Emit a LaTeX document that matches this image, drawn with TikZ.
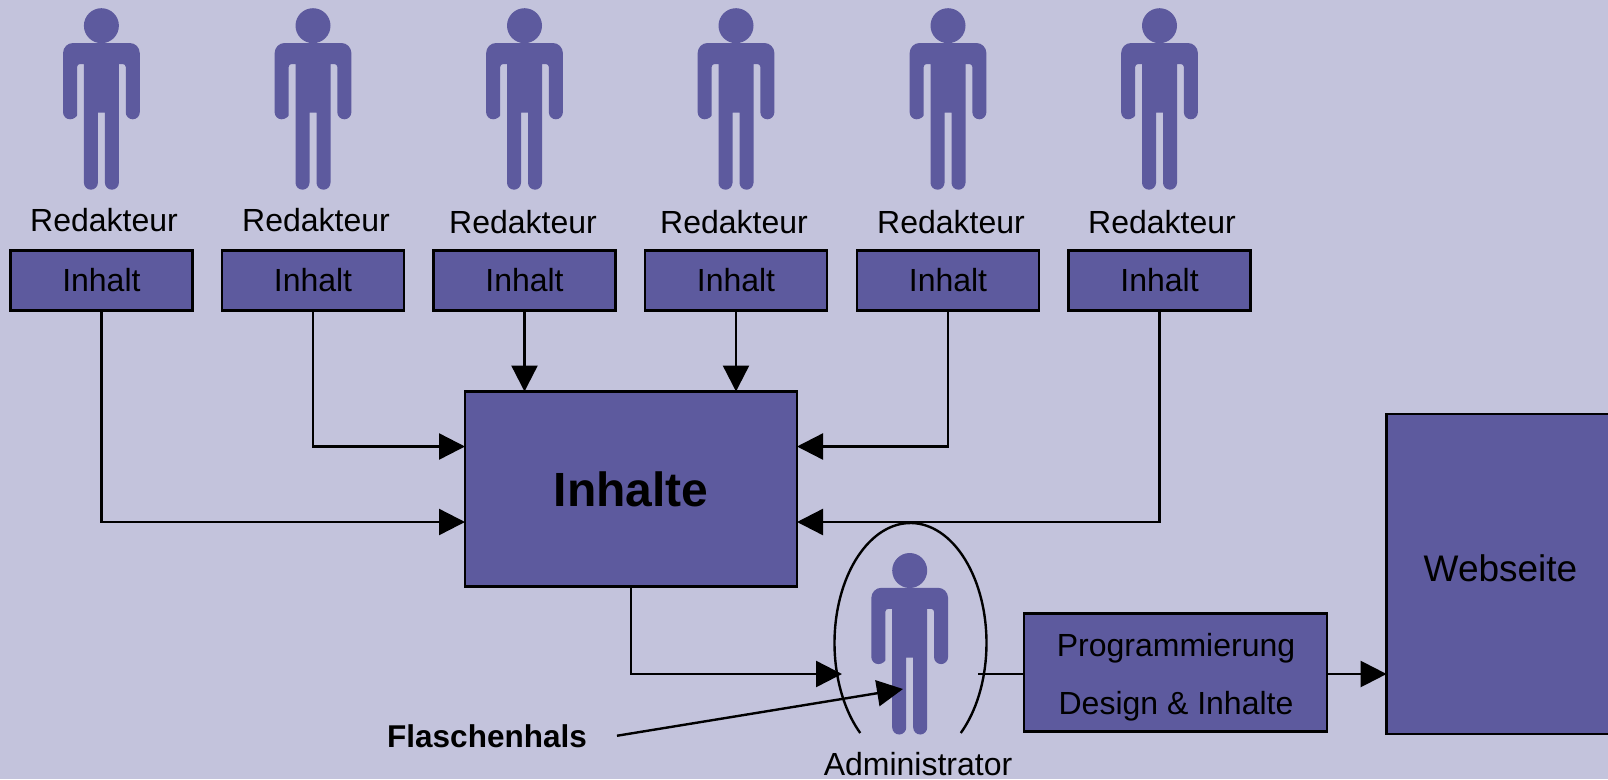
\documentclass[tikz,border=0pt]{standalone}
\usepackage{fontspec}
\setmainfont{Liberation Sans}
\usetikzlibrary{arrows.meta}
\definecolor{hintergrund}{RGB}{195,195,220}
\definecolor{lila}{RGB}{93,90,158}

\begin{document}
\begin{tikzpicture}[x=1pt, y=-1pt,
		text32/.style={font=\fontsize{32}{38}\selectfont, inner sep=0pt, anchor=base},
		kasten/.style={rectangle, draw=black, fill=lila, line width=2.8pt, inner sep=0pt, outer sep=0pt},
		inhaltbox/.style={kasten, minimum width=182pt, minimum height=60pt, font=\fontsize{32}{38}\selectfont},
		pfeil/.style={line width=2.4pt, -{Triangle[length=26pt,width=26pt]}},
		linie/.style={line width=2.4pt},
		person/.pic={
			\fill[lila] (0,0) circle (17.5);
			\fill[lila] (-38.35,86.6) [rounded corners=10pt] -- (-38.35,17.3) -- (38.35,17.3) [sharp corners] -- (38.35,86.6)
				arc[start angle=0,end angle=180,radius=7] [rounded corners=3pt] -- (24.35,38.3) [sharp corners] -- (17.5,38.3) -- (17.5,157)
				arc[start angle=0,end angle=180,radius=7] -- (3.5,87) -- (-3.5,87) -- (-3.5,157)
				arc[start angle=0,end angle=180,radius=7] -- (-17.5,38.3) [rounded corners=3pt] -- (-24.35,38.3) -- (-24.35,86.6) [sharp corners]
				arc[start angle=0,end angle=180,radius=7] -- cycle;
		}]

		% fix the page and fill the background
		\clip (0,0) rectangle (1608,779);
		\fill[hintergrund] (0,0) rectangle (1608,779);

		% the six authors with their content boxes
		\foreach \i/\x/\lx/\ly in {1/101.4/104/231.5, 2/313/316/231.5, 3/524.5/523/233.5, 4/736/734/233.5, 5/948/951/233.5, 6/1159.5/1162/233.5}{
			\pic (redakteur\i) at (\x,25.7) {person};
			\node[text32] (name\i) at (\lx,\ly) {Redakteur};
			\node[inhaltbox] (inhalt\i) at (\x,280.5) {Inhalt};
		}

		% central box
		\node[kasten, minimum width=332pt, minimum height=195pt, font=\fontsize{48}{56}\bfseries\selectfont] (inhalte) at (631,489) {\raisebox{-1pt}{Inhalte}};

		% connectors into the central box
		\draw[pfeil] (inhalt1.south) |- ([yshift=-33pt]inhalte.west);
		\draw[pfeil] (inhalt2.south) |- ([yshift=42.5pt]inhalte.west);
		\draw[pfeil] (inhalt3.south) -- (inhalte.north -| inhalt3.south);
		\draw[pfeil] (inhalt4.south) -- (inhalte.north -| inhalt4.south);
		\draw[pfeil] (inhalt5.south) |- ([yshift=42.5pt]inhalte.east);
		\draw[pfeil] (inhalt6.south) |- ([yshift=-33pt]inhalte.east);

		% administrator in his ellipse, cut off at the bottom
		\pic (admin) at (909.7,570.5) {person};
		\draw[linie] (910.5,643) ++(48.6:76 and 120) arc[start angle=48.6,end angle=-228.6,x radius=76,y radius=120];
		\node[text32] (adminname) at (918,775) {Administrator};
		\coordinate (adminein) at (842,674);
		\coordinate (adminaus) at (978,674);

		% programming box and website
		\node[kasten, minimum width=303pt, minimum height=118pt] (programm) at (1175.5,672.5) {};
		\node[text32] (programmtext) at (1176,656) {Programmierung};
		\node[text32] (designtext) at (1176,714) {Design \& Inhalte};
		\node[kasten, minimum width=228pt, minimum height=320pt] (webseite) at (1500.6,574) {};
		\node[text32, font=\fontsize{37}{44}\selectfont] (webseitetext) at (1500.5,581) {Webseite};

		% lower connectors
		\draw[pfeil] (inhalte.south) |- (adminein);
		\draw[linie] (adminaus) -- (programm.west |- adminaus);
		\draw[pfeil] (programm.east |- adminaus) -- (webseite.west |- adminaus);

		% bottleneck label
		\node[text32, font=\fontsize{31.5}{38}\bfseries\selectfont] (flaschenhals) at (487,747) {Flaschenhals};
		\coordinate (engpass) at (903,689);
		\draw[pfeil] ([xshift=30pt]flaschenhals.east) -- (engpass);
\end{tikzpicture}
\end{document}
